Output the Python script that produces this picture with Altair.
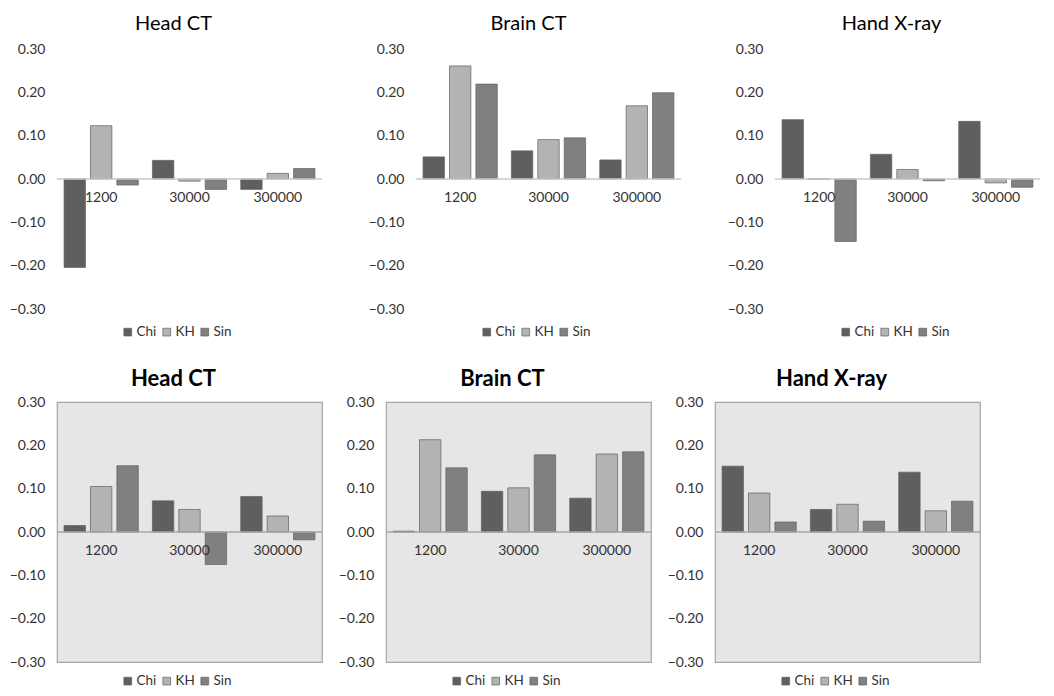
import altair as alt
import pandas as pd

categories = ["1200", "30000", "300000"]
series = ["Chi", "KH", "Sin"]
series_colors = ["#5f5f5f", "#b3b3b3", "#808080"]
y_ticks = [-0.3, -0.2, -0.1, 0.0, 0.1, 0.2, 0.3]

# top row
head_top_chi = [-0.204, 0.043, -0.024]
head_top_kh = [0.123, -0.005, 0.013]
head_top_sin = [-0.014, -0.024, 0.024]
brain_top_chi = [0.051, 0.065, 0.044]
brain_top_kh = [0.261, 0.091, 0.169]
brain_top_sin = [0.219, 0.095, 0.199]
hand_top_chi = [0.137, 0.057, 0.133]
hand_top_kh = [0.0, 0.022, -0.009]
hand_top_sin = [-0.144, -0.004, -0.019]

# bottom row
head_bot_chi = [0.015, 0.072, 0.082]
head_bot_kh = [0.105, 0.052, 0.037]
head_bot_sin = [0.153, -0.075, -0.018]
brain_bot_chi = [0.002, 0.094, 0.078]
brain_bot_kh = [0.213, 0.102, 0.180]
brain_bot_sin = [0.148, 0.178, 0.185]
hand_bot_chi = [0.152, 0.052, 0.138]
hand_bot_kh = [0.090, 0.064, 0.049]
hand_bot_sin = [0.023, 0.025, 0.071]

FONT = "Lato"
TEXT = "#333333"


def make_df(chi, kh, sin):
    rows = []
    for name, vals in zip(series, [chi, kh, sin]):
        for c, v in zip(categories, vals):
            rows.append({"cat": c, "series": name, "value": v})
    return pd.DataFrame(rows)


def panel(title, chi, kh, sin, bold, title_dx=-16):
    df = make_df(chi, kh, sin)
    xscale = alt.Scale(domain=categories, paddingInner=0.16, paddingOuter=0.08)
    yscale = alt.Scale(domain=[-0.3, 0.3], nice=False, zero=False)
    zero_color = "#a6a6a6" if bold else "#c8c8c8"

    rule = alt.Chart(pd.DataFrame({"z": [0.0]})).mark_rule(
        color=zero_color, strokeWidth=1.5
    ).encode(y=alt.Y("z:Q", scale=yscale))

    bars = alt.Chart(df).mark_bar(stroke="#606060", strokeWidth=0.7).encode(
        x=alt.X("cat:N", sort=categories, scale=xscale, axis=None),
        xOffset=alt.XOffset("series:N", sort=series,
                            scale=alt.Scale(domain=series, paddingInner=0.19)),
        y=alt.Y("value:Q", scale=yscale,
                axis=alt.Axis(values=y_ticks, format=".2f", grid=False,
                              domain=False, ticks=False, labelPadding=12,
                              title=None, labelFontSize=14, labelFont=FONT,
                              labelColor=TEXT)),
        color=alt.Color("series:N", sort=series,
                        scale=alt.Scale(domain=series, range=series_colors),
                        legend=alt.Legend(orient="none", direction="horizontal",
                                          legendX=64,
                                          legendY=272 if bold else 276,
                                          title=None,
                                          symbolType="square", symbolSize=60,
                                          symbolStrokeColor="#606060",
                                          symbolStrokeWidth=0.7,
                                          labelFontSize=13.5, labelFont=FONT,
                                          labelColor=TEXT, labelOffset=2,
                                          columnPadding=3)),
    )

    labels = alt.Chart(pd.DataFrame({"cat": categories})).mark_text(
        dy=19, fontSize=14, font=FONT, color=TEXT, baseline="middle"
    ).encode(
        x=alt.X("cat:N", sort=categories, scale=xscale, axis=None),
        y=alt.datum(0.0),
        text="cat:N",
    )

    props = dict(
        width=265,
        height=260,
        title=alt.TitleParams(title, fontSize=22 if bold else 20, font=FONT,
                              fontWeight="bold" if bold else "normal",
                              anchor="middle", offset=4 if bold else 8,
                              color="#000000", dx=title_dx),
    )
    if bold:
        props["view"] = alt.ViewBackground(fill="#e6e6e6", stroke="#a6a6a6",
                                           strokeWidth=1.2)
    else:
        props["view"] = alt.ViewBackground(fill="white", stroke="transparent",
                                           strokeWidth=0)
    return alt.layer(bars, rule, labels).properties(**props)


top = alt.hconcat(
    panel("Head CT", head_top_chi, head_top_kh, head_top_sin, False),
    panel("Brain CT", brain_top_chi, brain_top_kh, brain_top_sin, False, -20),
    panel("Hand X-ray", hand_top_chi, hand_top_kh, hand_top_sin, False),
    spacing=45,
).resolve_scale(color="independent", x="independent", y="independent").resolve_legend(color="independent")

bottom = alt.hconcat(
    panel("Head CT", head_bot_chi, head_bot_kh, head_bot_sin, True),
    panel("Brain CT", brain_bot_chi, brain_bot_kh, brain_bot_sin, True),
    panel("Hand X-ray", hand_bot_chi, hand_bot_kh, hand_bot_sin, True),
    spacing=13,
).resolve_scale(color="independent", x="independent", y="independent").resolve_legend(color="independent")

chart = alt.vconcat(top, bottom, spacing=28).resolve_scale(
    color="independent", x="independent", y="independent"
).resolve_legend(color="independent").properties(
    padding={"left": 0, "top": 6, "right": 0, "bottom": 0},
    background="white",
)

chart.save("out.html", embed_options={"renderer": "svg", "actions": False})
